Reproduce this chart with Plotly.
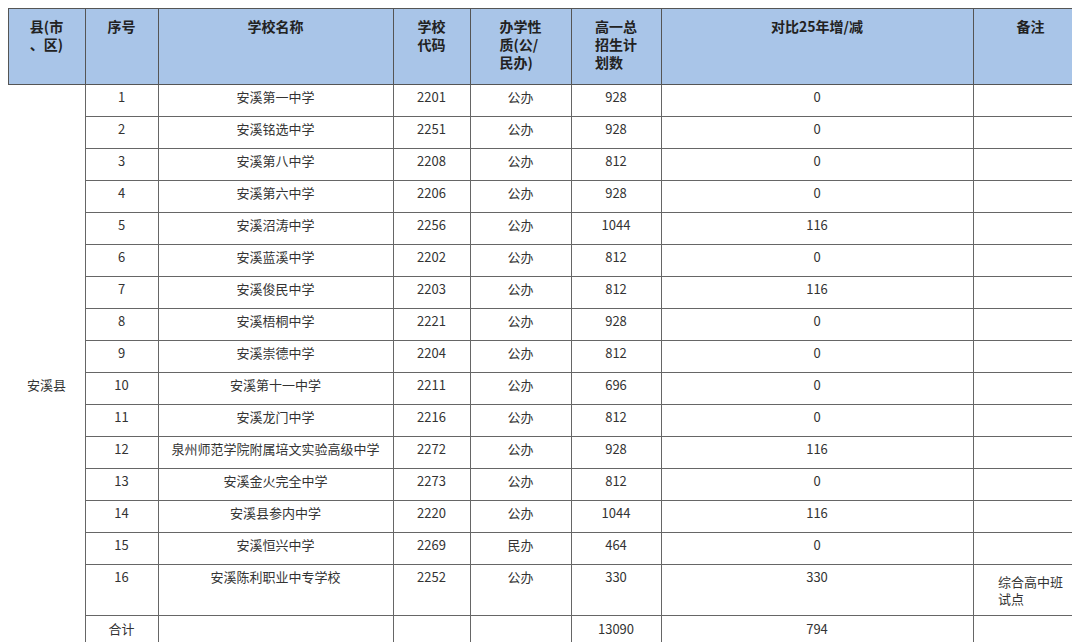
import plotly.graph_objects as go

county = ["", "", "", "", "", "", "", "", "", "安溪县", "", "", "", "", "", "", ""]
seq = [str(i) for i in range(1, 17)] + ["合计"]
names = ["安溪第一中学", "安溪铭选中学", "安溪第八中学", "安溪第六中学", "安溪沼涛中学",
         "安溪蓝溪中学", "安溪俊民中学", "安溪梧桐中学", "安溪崇德中学", "安溪第十一中学",
         "安溪龙门中学", "泉州师范学院附属培文实验高级中学", "安溪金火完全中学",
         "安溪县参内中学", "安溪恒兴中学", "安溪陈利职业中专学校", ""]
codes = ["2201", "2251", "2208", "2206", "2256", "2202", "2203", "2221", "2204",
         "2211", "2216", "2272", "2273", "2220", "2269", "2252", ""]
nature = ["公办"] * 14 + ["民办", "公办", ""]
plan = [928, 928, 812, 928, 1044, 812, 812, 928, 812, 696, 812, 928, 812, 1044, 464, 330, 13090]
change = [0, 0, 0, 0, 116, 0, 116, 0, 0, 0, 0, 116, 0, 116, 0, 330, 794]
notes = [""] * 15 + ["综合高中班<br>试点", ""]

headers = ["<br><b>县(市<br>、区)</b>", "<br><b>序号</b>", "<br><b>学校名称</b>",
           "<br><b>学校<br>代码</b>", "<b>办学性<br>质(公/<br>民办)</b>",
           "<b>高一总<br>招生计<br>划数</b>", "<br><b>对比25年增/减</b>", "<br><b>备注</b>"]

font = "Noto Sans CJK SC"
fig = go.Figure(go.Table(
    columnwidth=[77, 73, 235, 77, 101, 90, 312, 115],
    header=dict(values=headers, fill_color="#a9c5e8", height=76,
                line=dict(color="#555", width=1),
                font=dict(family=font, size=14, color="#222"), align="center"),
    cells=dict(values=[county, seq, names, codes, nature,
                       [str(v) for v in plan], [str(v) for v in change], notes],
               fill_color="white", height=32,
               line=dict(color=[["white"] * 17] + [["#666"] * 17] * 7, width=1),
               font=dict(family=font, size=13, color="#333"), align="center"),
))
fig.update_layout(width=1080, height=642, margin=dict(l=0, r=0, t=0, b=0),
                  paper_bgcolor="white")
fig.write_html("out.html")
